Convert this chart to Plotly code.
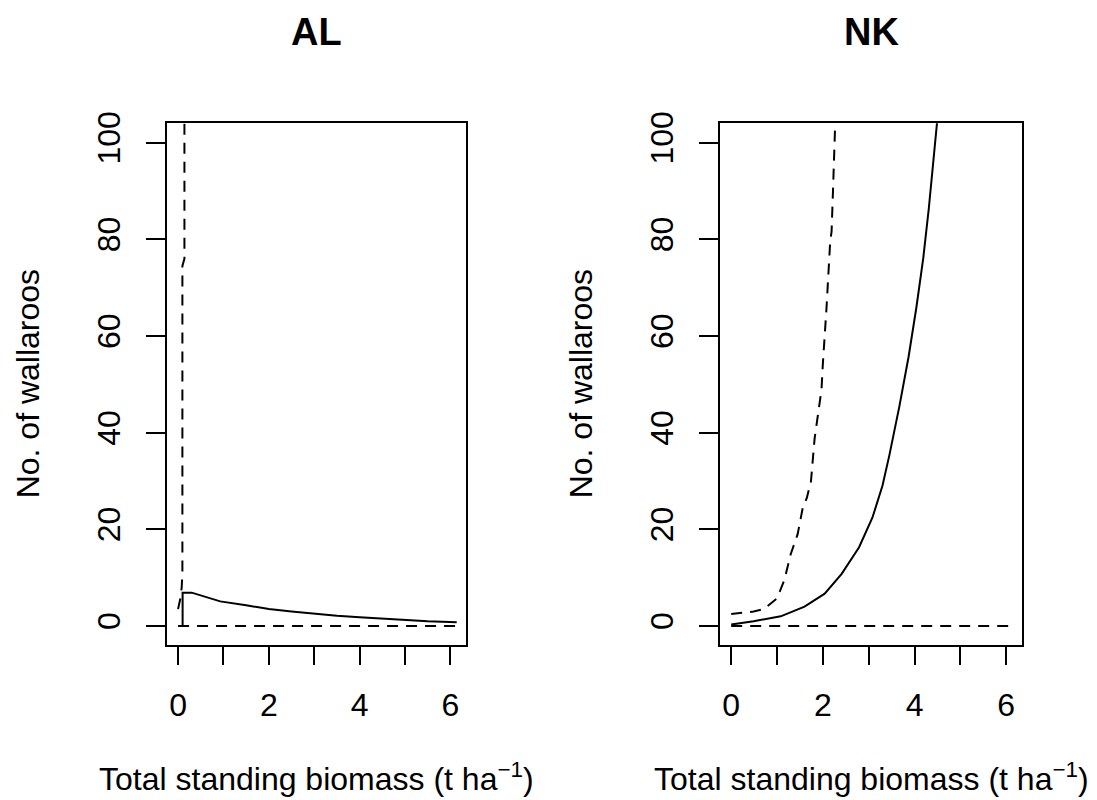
import plotly.graph_objects as go

# ---- data ----
panels = ["AL", "NK"]

al_solid_x = [0.1, 0.1, 0.3, 0.5, 0.93, 1.5, 2.0, 2.5, 3.0, 3.5, 4.0, 4.5, 5.0, 5.5, 6.14]
al_solid_y = [0.0, 6.9, 6.9, 6.3, 5.1, 4.3, 3.5, 3.0, 2.5, 2.1, 1.8, 1.5, 1.2, 1.0, 0.8]

al_dash_x = [0.0, 0.05, 0.08, 0.095, 0.095, 0.14, 0.14]
al_dash_y = [3.5, 5.7, 8.0, 11.0, 74.5, 76.0, 150.0]

nk_solid_x = [0.0, 0.49, 1.08, 1.6, 2.04, 2.41, 2.79, 3.08, 3.3, 3.45, 3.67, 3.87, 4.04, 4.19, 4.31, 4.41, 4.49, 4.55]
nk_solid_y = [0.3, 1.0, 2.0, 4.0, 6.7, 10.8, 16.3, 22.4, 29.0, 35.3, 45.5, 55.7, 65.9, 76.1, 86.3, 96.5, 103.7, 110.0]

nk_dash_x = [0.0, 0.49, 0.71, 1.0, 1.16, 1.3, 1.45, 1.56, 1.65, 1.74, 1.82, 1.9, 1.97, 2.0, 2.04, 2.08, 2.16, 2.19, 2.22, 2.27, 2.29]
nk_dash_y = [2.5, 3.0, 3.5, 5.7, 9.5, 14.9, 19.0, 24.4, 26.5, 29.9, 38.8, 44.2, 48.9, 54.3, 59.2, 65.9, 79.6, 81.6, 89.8, 103.3, 110.0]

zero_x = [0.0, 6.14]
zero_y = [0.0, 0.0]

x_ticks = [0, 2, 4, 6]
x_minor_ticks = [1, 3, 5]
y_ticks = [0, 20, 40, 60, 80, 100]

x_title = "Total standing biomass (t ha<sup>\u22121</sup>)"
y_title = "No. of wallaroos"

# ---- figure ----
W, H = 1097, 800
FONT = "Liberation Sans, Arial, sans-serif"
fig = go.Figure()

line_solid = dict(color="black", width=2)
line_dash = dict(color="black", width=2, dash="11px,8px")

series = [
    ("x", "y", al_solid_x, al_solid_y, line_solid),
    ("x", "y", al_dash_x, al_dash_y, line_dash),
    ("x", "y", zero_x, zero_y, line_dash),
    ("x2", "y2", nk_solid_x, nk_solid_y, line_solid),
    ("x2", "y2", nk_dash_x, nk_dash_y, line_dash),
    ("x2", "y2", zero_x, zero_y, line_dash),
]
for xa, ya, xs, ys, ln in series:
    fig.add_trace(go.Scatter(x=xs, y=ys, xaxis=xa, yaxis=ya, mode="lines",
                             line=ln, showlegend=False, hoverinfo="skip"))

ydom = [1 - 643 / H, 1 - 113 / H]
xdoms = [[167 / W, 466 / W], [720 / W, 1022 / W]]

def xaxis(dom, anchor):
    return dict(domain=dom, anchor=anchor, range=[-0.244, 6.344],
                tickmode="array", tickvals=x_ticks,
                ticks="outside", ticklen=18, tickwidth=1.5, tickcolor="black",
                minor=dict(tickmode="array", tickvals=x_minor_ticks, ticks="outside",
                           ticklen=18, tickwidth=1.5, tickcolor="black", showgrid=False),
                showline=True, mirror=True, linecolor="black", linewidth=2,
                showgrid=False, zeroline=False, ticklabelstandoff=12,
                tickfont=dict(family=FONT, size=32, color="black"))

def yaxis(anchor):
    return dict(domain=ydom, anchor=anchor, range=[-4, 104],
                tickmode="array", tickvals=y_ticks, tickangle=-90,
                ticks="outside", ticklen=19, tickwidth=1.5, tickcolor="black",
                showline=True, mirror=True, linecolor="black", linewidth=2,
                showgrid=False, zeroline=False, ticklabelstandoff=13,
                tickfont=dict(family=FONT, size=32, color="black"))

fig.update_layout(
    width=W, height=H, margin=dict(l=0, r=0, t=0, b=0),
    paper_bgcolor="white", plot_bgcolor="white",
    xaxis=xaxis(xdoms[0], "y"), yaxis=yaxis("x"),
    xaxis2=xaxis(xdoms[1], "y2"), yaxis2=yaxis("x2"),
)

anns = []
for name, dom in zip(panels, xdoms):
    cx = (dom[0] + dom[1]) / 2
    anns.append(dict(text="<b>%s</b>" % name, x=cx, y=1 - 20 / H, xref="paper", yref="paper",
                     xanchor="center", yanchor="middle", showarrow=False,
                     font=dict(family=FONT, size=38, color="black")))
    anns.append(dict(text=x_title, x=cx, y=1 - 777 / H, xref="paper", yref="paper",
                     xanchor="center", yanchor="middle", showarrow=False,
                     font=dict(family=FONT, size=32, color="black")))
    left_px = dom[0] * W
    anns.append(dict(text=y_title, x=(left_px - 139) / W, y=1 - 378 / H, xref="paper", yref="paper",
                     xanchor="center", yanchor="middle", textangle=-90, showarrow=False,
                     font=dict(family=FONT, size=32, color="black")))
fig.update_layout(annotations=anns)

fig.write_html("out.html")
